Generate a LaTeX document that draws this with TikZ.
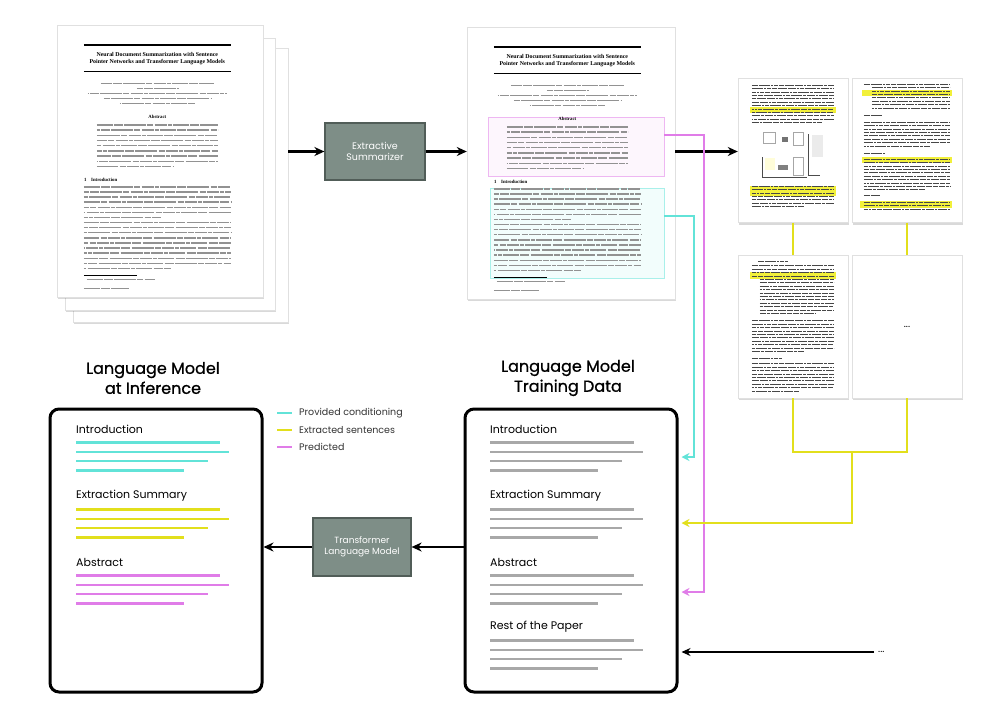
\documentclass[tikz,border=0pt]{standalone}
\usepackage{fontspec}
\newfontfamily\gf{Poppins}
\newfontfamily\gfh{Poppins}[FakeBold=0.9]
\newfontfamily\pserif{Liberation Serif}
\usetikzlibrary{arrows.meta,shadows,calc}
\definecolor{tealc}{HTML}{62E3D8}
\definecolor{yelc}{HTML}{E2DF1C}
\definecolor{hiyel}{HTML}{F2F03A}
\definecolor{pinkc}{HTML}{E07CE8}
\definecolor{boxg}{HTML}{7E8E87}
\definecolor{boxd}{HTML}{515D58}
\definecolor{lineg}{HTML}{A8A8A8}
\definecolor{ptxtc}{HTML}{929292}
\tikzset{
 x=1pt, y=-1pt,
 pagebox/.style={draw=black!12, line width=0.4pt, fill=white, inner sep=0pt,
   drop shadow={shadow xshift=1pt, shadow yshift=-2pt, opacity=0.15, fill=black}},
 bigpage/.style={pagebox, minimum width=206pt, minimum height=272pt},
 smallpage/.style={pagebox, minimum width=110pt, minimum height=144pt},
 modelbox/.style={draw=boxd, line width=1.2pt, fill=boxg, text=white, align=center,
   font=\gf\fontsize{9.5}{11.5}\selectfont, inner sep=0pt},
 docbox/.style={draw=black, line width=3pt, rounded corners=9pt, fill=white, inner sep=0pt,
   minimum width=212pt, minimum height=283pt},
 heading/.style={font=\gfh\fontsize{16}{20}\selectfont, align=center, inner sep=0pt},
 sec/.style={font=\gf\fontsize{11}{13}\selectfont, anchor=west, inner sep=0pt},
 arr/.style={line width=2.6pt, -{Stealth[length=10pt,width=9pt]}},
 carr/.style={line width=2.4pt, -{Stealth[length=8pt,width=8pt]}},
 gline/.style={line width=2.6pt, lineg},
 ptxt/.style={line width=1.4pt, ptxtc, dash pattern=on 16pt off 1.2pt on 9pt off 1.2pt on 22pt off 1.2pt on 6pt off 1.2pt on 12pt off 1.2pt on 4pt off 1.2pt},
 stxt/.style={line width=0.9pt, black!72, dash pattern=on 6pt off 0.8pt on 3pt off 0.8pt on 8pt off 0.8pt on 2pt off 0.8pt on 4pt off 0.8pt on 5pt off 0.8pt},
 ptitle/.style={font=\pserif\fontsize{5.9}{7.6}\selectfont\bfseries, align=center, inner sep=0pt},
 phead/.style={font=\pserif\fontsize{4.8}{5}\selectfont\bfseries, inner sep=0pt},
 legtxt/.style={font=\gf\fontsize{9.5}{11}\selectfont, text=black!80, anchor=west, inner sep=0pt},
 hlbox/.style={line width=1.3pt, inner sep=0pt, anchor=north west},
}
\newcommand\papercontent{%
 \draw[line width=1.4pt] (27,20) -- (174,20);
 \node[ptitle] (ptitle) at (100.5,34) {Neural Document Summarization with Sentence\\Pointer Networks and Transformer Language Models};
 \draw[line width=0.8pt] (27,47) -- (174,47);
 \foreach \ya/\xa/\xb [count=\c] in {59/44/157,64/80/122,69/31/170,74/47/154,79/63/138}
   \draw[ptxt, line width=1.1pt, dash phase=\c*5pt] (\xa,\ya) -- (\xb,\ya);
 \node[phead] (pabs) at (100.5,92) {Abstract};
 \foreach \k in {0,...,8} \draw[ptxt, dash phase=\k*13pt] (40,{100+5.2*\k}) -- ({161-45*(\k==8)},{100+5.2*\k});
 \node[phead, anchor=west] (pintro) at (27,155) {1\quad Introduction};
 \foreach \k in {0,...,16} \draw[ptxt, dash phase=\k*11pt] (27,{162+5.1*\k}) -- ({174-70*(\k==6)-60*(\k==16)},{162+5.1*\k});
 \draw[line width=0.5pt] (27,250) -- (80,250);
 \draw[ptxt, line width=1.1pt] (30,255) -- (98,255);
 \draw[ptxt, line width=1.1pt] (27,264) -- (72,264);
}
\newcommand\docsec[5]{%
 \node[sec] (#5) at (#1,#2) {#3};
 \foreach \w [count=\i] in {144,153,132,108}
   \draw[#4] (#1,{#2+13.5+9.3*(\i-1)}) -- ++(\w,0);
}
\begin{document}
\begin{tikzpicture}
\fill[white] (0,0) rectangle (1003,712);
\useasboundingbox (0,0) rectangle (1003,712);

% ---------- stack of papers
\node[bigpage, minimum width=215pt, minimum height=274pt] (p3) at (180.5,185) {};
\node[bigpage, minimum width=210pt] (p2) at (170,174) {};
\node[bigpage] (p1) at (160,161) {};
\begin{scope}[shift={(p1.north west)}]
 \papercontent
\end{scope}

% ---------- extractive summarizer
\node[modelbox, minimum width=100pt, minimum height=57pt] (es) at (375,151.5) {Extractive\\Summarizer};

% ---------- middle paper
\node[bigpage, minimum width=208pt] (mid) at (571,163) {};
\begin{scope}[shift={(mid.north west)}]
 \node[hlbox, draw=pinkc!55, fill=pinkc!7, minimum width=176pt, minimum height=59pt] (hp) at (21,90) {};
 \node[hlbox, draw=tealc!55, fill=tealc!8, minimum width=174pt, minimum height=90pt] (ht) at (23,161) {};
 \papercontent
\end{scope}

% ---------- small pages
\node[smallpage] (pA) at (793,150.5) {};
\node[smallpage] (pB) at (907,150.5) {};
\node[smallpage, minimum height=143pt] (pC) at (793,326.5) {};
\node[smallpage, minimum height=143pt] (pD) at (907,326.5) {};
\node[font=\gf\fontsize{10}{12}\selectfont] (pDdots) at (pD) {...};

\begin{scope}[shift={(pA.north west)}]
 \fill[hiyel] (12,29) rectangle (98,35);
 \fill[hiyel] (12,107.5) rectangle (98,117.5);
 \foreach \k in {0,...,11} \draw[stxt, dash phase=\k*7pt] (14,{7+3.4*\k}) -- ({96-12*(\k==11)},{7+3.4*\k});
 \draw[black!35, line width=0.5pt] (25,54) rectangle (37,65);
 \fill[black!55] (44,59) rectangle (50,64);
 \draw[black!35, line width=0.5pt] (55,54) rectangle (65,67);
 \fill[black!8] (74,57) rectangle (85,79);
 \draw[black!70, line width=0.6pt] (24,79) -- (24,99) -- (69,99);
 \fill[yellow!15] (27,80) rectangle (37,92);
 \fill[black!50] (40,87) rectangle (50,92);
 \draw[black!35, line width=0.5pt] (55,79) rectangle (65,97);
 \draw[black!70, line width=0.6pt] (70,56) -- (70,97) -- (82,97);
 \foreach \k in {0,...,6} \draw[stxt, dash phase=\k*7pt] (14,{108+3.4*\k}) -- ({96-30*(\k==6)},{108+3.4*\k});
\end{scope}

\begin{scope}[shift={(pB.north west)}]
 \fill[hiyel] (10,12) rectangle (100,18);
 \fill[hiyel] (10,79) rectangle (100,85);
 \fill[hiyel] (8,123) rectangle (100,130);
 \foreach \k in {0,...,7} \draw[stxt, dash phase=\k*7pt] ({12+8*(\k>0)},{6+3.4*\k}) -- (98,{6+3.4*\k});
 \draw[stxt] (12,37) -- (30,37);
 \foreach \k in {0,...,7} \draw[stxt, dash phase=\k*7pt] (12,{44+3.4*\k}) -- ({98-20*(\k==7)},{44+3.4*\k});
 \draw[stxt] (12,75) -- (34,75);
 \foreach \k in {0,...,9} \draw[stxt, dash phase=\k*7pt] (12,{81+3.4*\k}) -- ({98-25*(\k==9)},{81+3.4*\k});
 \draw[stxt] (12,117) -- (28,117);
 \foreach \k in {0,...,2} \draw[stxt, dash phase=\k*7pt] (12,{124+3.4*\k}) -- (98,{124+3.4*\k});
\end{scope}

\begin{scope}[shift={(pC.north west)}]
 \fill[hiyel] (12,17) rectangle (98,24);
 \draw[stxt] (20,7) -- (50,7);
 \foreach \k in {0,...,14} \draw[stxt, dash phase=\k*7pt] ({14+8*(\k>3)},{11+3.4*\k}) -- ({96-18*(\k==14)},{11+3.4*\k});
 \foreach \k in {0,...,9} \draw[stxt, dash phase=\k*7pt] (14,{66+3.4*\k}) -- ({96-30*(\k==9)},{66+3.4*\k});
 \draw[stxt] (14,104) -- (44,104);
 \foreach \k in {0,...,8} \draw[stxt, dash phase=\k*7pt] (14,{109+3.4*\k}) -- ({96-35*(\k==8)},{109+3.4*\k});
\end{scope}

% ---------- yellow page links
\draw[yelc, line width=2.5pt] (pA.south) -- (pC.north);
\draw[yelc, line width=2.5pt] (pB.south) -- (pD.north);
\coordinate (yj) at (852,452);
\draw[yelc, line width=2.5pt] (pC.south) |- (yj) -| (pD.south);

% ---------- top arrows
\draw[arr] (p3.east |- es.west) -- (es.west);
\draw[arr] (es.east) -- (mid.west |- es.east);
\draw[arr] (mid.east |- es.east) -- (pA.west |- es.east);

% ---------- headings
\node[heading] (hinf) at (153,378) {Language Model\\at Inference};
\node[heading] (htrain) at (568,378) {Language Model\\Training Data};

% ---------- doc boxes
\node[docbox] (inf) at (156,550.5) {};
\node[docbox] (train) at (571,550.5) {};

\docsec{76}{429}{Introduction}{line width=2.6pt, tealc}{iintro}
\docsec{76}{496}{Extraction Summary}{line width=2.6pt, yelc}{iext}
\docsec{76}{562}{Abstract}{line width=2.6pt, pinkc}{iabs}

\docsec{490}{429}{Introduction}{gline}{tintro}
\docsec{490}{496}{Extraction Summary}{gline}{text}
\docsec{490}{562}{Abstract}{gline}{tabs}
\docsec{490}{627}{Rest of the Paper}{gline}{trest}

% ---------- legend
\draw[tealc, line width=1.8pt] (277,413) -- (292,413);
\draw[yelc, line width=1.8pt] (277,430) -- (292,430);
\draw[pinkc, line width=1.8pt] (277,447) -- (292,447);
\node[legtxt] (legt) at (299,413) {Provided conditioning};
\node[legtxt] (legy) at (299,430) {Extracted sentences};
\node[legtxt] (legp) at (299,447) {Predicted};

% ---------- transformer
\node[modelbox, minimum width=98pt, minimum height=58pt, font=\gf\fontsize{9}{11}\selectfont] (tlm) at (362,547) {Transformer\\Language Model};
\draw[arr] (train.west |- tlm.east) -- (tlm.east);
\draw[arr] (tlm.west) -- (inf.east |- tlm.west);

% ---------- coloured routes into training box
\coordinate (pstart) at (664,135);
\coordinate (pturn) at (704,592);
\coordinate (tstart) at (664,216);
\coordinate (tturn) at (694,457);
\coordinate (yturn) at (852,523);
\draw[carr, pinkc] (pstart) -| (pturn) -- ([xshift=3pt]train.east |- pturn);
\draw[carr, tealc] (tstart) -| (tturn) -- ([xshift=3pt]train.east |- tturn);
\draw[carr, yelc] (yj) -- (yturn) -- ([xshift=3pt]train.east |- yturn);

% ---------- rest of paper
\node[font=\gf\fontsize{10}{12}\selectfont, inner sep=4pt, anchor=west] (more) at (874,652) {...};
\draw[line width=2.2pt, -{Stealth[length=9pt,width=8pt]}] (more.west) -- ([xshift=3pt]train.east |- more.west);
\end{tikzpicture}
\end{document}
